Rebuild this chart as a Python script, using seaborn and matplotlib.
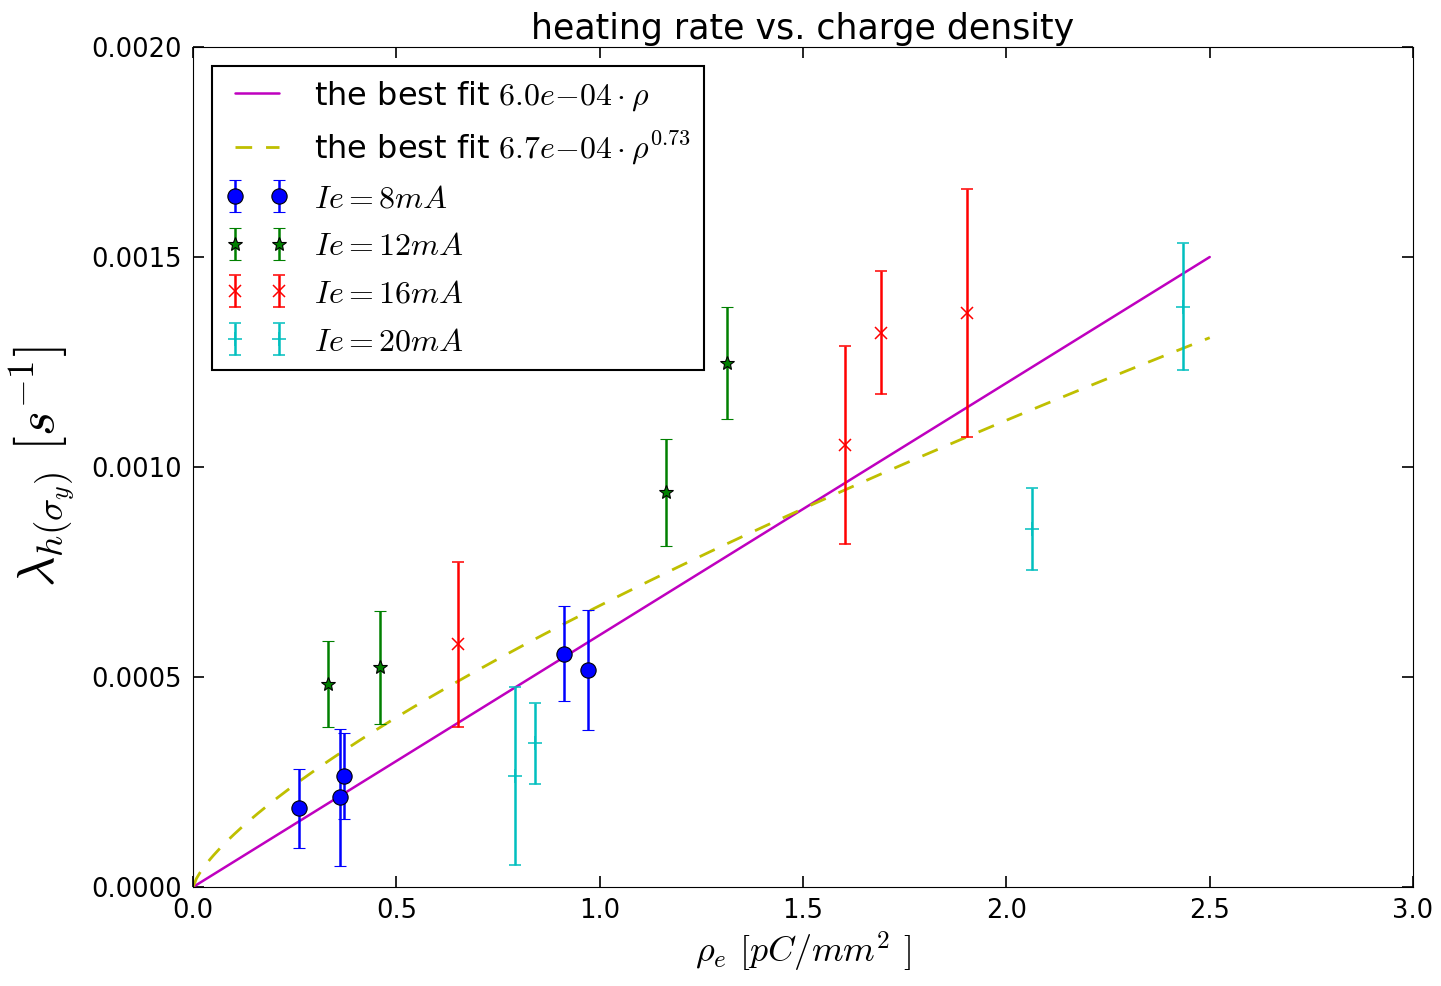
import matplotlib
matplotlib.use("Agg")
import matplotlib.pyplot as plt
import numpy as np
import pandas as pd
import seaborn as sns
from matplotlib import ticker

# charge density [pC/mm^2], heating rate [1/s] and its error, per electron current
rho_8mA = [0.261, 0.362, 0.371, 0.912, 0.972]
lam_8mA = [0.000187, 0.000214, 0.000264, 0.000555, 0.000517]
err_8mA = [0.000093, 0.000163, 0.000102, 0.000113, 0.000143]

rho_12mA = [0.332, 0.460, 1.162, 1.314]
lam_12mA = [0.000483, 0.000523, 0.000940, 0.001248]
err_12mA = [0.000103, 0.000134, 0.000127, 0.000134]

rho_16mA = [0.651, 1.603, 1.692, 1.902]
lam_16mA = [0.000578, 0.001052, 0.001320, 0.001366]
err_16mA = [0.000196, 0.000235, 0.000147, 0.000295]

rho_20mA = [0.792, 0.842, 2.064, 2.435]
lam_20mA = [0.000264, 0.000342, 0.000852, 0.001382]
err_20mA = [0.000212, 0.000097, 0.000097, 0.000152]

# best fit coefficients as printed in the legend
lin_coef = 6.0e-4
pow_coef = 6.7e-4
pow_exp = 0.73
rho_max = 2.5

sns.set_style("ticks", rc={"xtick.direction": "in", "ytick.direction": "in",
                           "xtick.top": True, "ytick.right": True,
                           "axes.edgecolor": "black", "axes.linewidth": 1.5,
                           "text.color": "black", "axes.labelcolor": "black",
                           "xtick.color": "black", "ytick.color": "black"})
plt.rcParams["font.family"] = ["DejaVu Sans"]
plt.rcParams["mathtext.fontset"] = "cm"

fig = plt.figure(figsize=(14.41, 9.86), dpi=100)
ax = fig.add_axes([0.134, 0.1004, 0.8466, 0.8519])

rho_fit = np.linspace(0, rho_max, 300)
fits = pd.DataFrame({"rho": rho_fit,
                     "lin": lin_coef * rho_fit,
                     "pow": pow_coef * rho_fit ** pow_exp})

sns.lineplot(data=fits, x="rho", y="lin", ax=ax, color=(0.75, 0, 0.75), lw=1.8,
             label=r"the best fit $6.0e{-}04\cdot\rho$")
sns.lineplot(data=fits, x="rho", y="pow", ax=ax, color=(0.75, 0.75, 0), lw=2,
             label=r"the best fit $6.7e{-}04\cdot\rho^{0.73}$")
ax.lines[1].set_dashes((6, 5))

groups = [
    (rho_8mA, lam_8mA, err_8mA, "o", "b", 11, r"$Ie=8mA$"),
    (rho_12mA, lam_12mA, err_12mA, "*", (0, 0.5, 0), 10, r"$Ie=12mA$"),
    (rho_16mA, lam_16mA, err_16mA, "x", "r", 9, r"$Ie=16mA$"),
    (rho_20mA, lam_20mA, err_20mA, "+", (0, 0.75, 0.75), 10, r"$Ie=20mA$"),
]
for rho, lam, err, mk, col, ms, lbl in groups:
    filled = mk in "o*"
    ax.errorbar(rho, lam, yerr=err, fmt=mk, color=col, ms=ms, mec="k" if filled else col,
                mew=0.8 if filled else 1.1, ecolor=col, elinewidth=1.8, capsize=4,
                capthick=1.6, label=lbl)

ax.set_xlim(0, 3.0)
ax.set_ylim(0, 0.002)
ax.xaxis.set_major_locator(ticker.MultipleLocator(0.5))
ax.yaxis.set_major_locator(ticker.MultipleLocator(0.0005))
ax.xaxis.set_major_formatter(ticker.FormatStrFormatter("%.1f"))
ax.yaxis.set_major_formatter(ticker.FormatStrFormatter("%.4f"))
ax.tick_params(labelsize=18.5, length=8, width=1.2, pad=8)

ax.set_title("heating rate vs. charge density", fontsize=25, pad=6)
ax.set_xlabel(r"$\rho_e$ $[pC/mm^2$ $]$", fontsize=26, labelpad=4)
ax.set_ylabel(r"$\lambda_{h(\sigma_y)}$ $\mathbf{[}s^{-1}\mathbf{]}$", fontsize=38, labelpad=10)

leg = ax.legend(loc="upper left", numpoints=2, fontsize=23, fancybox=False,
                edgecolor="k", framealpha=1, borderaxespad=0.6, handlelength=2.0,
                handletextpad=0.8, labelspacing=0.52)
leg.get_frame().set_linewidth(1.5)

fig.savefig("out.png", dpi=100)
